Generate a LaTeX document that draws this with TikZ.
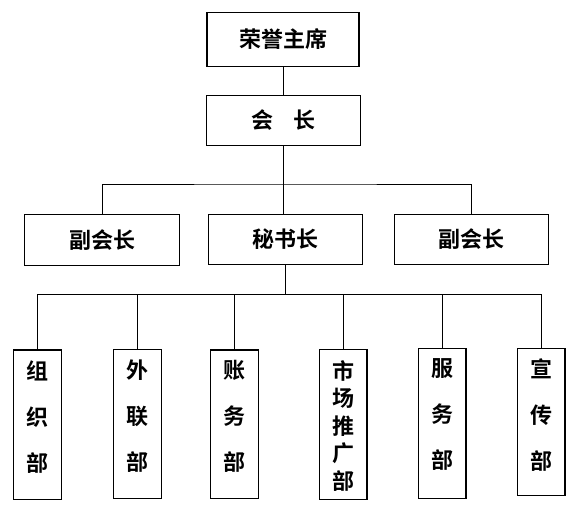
\documentclass[tikz,border=0pt]{standalone}
\usepackage{fontspec}
\newfontfamily\cjk{Noto Sans CJK SC}[BoldFont={Noto Sans CJK SC Bold}]
\usetikzlibrary{calc,positioning}

\tikzset{
  post/.style={draw, line width=1.2pt, font=\cjk\bfseries\fontsize{22}{26}\selectfont, inner sep=0pt},
  dept/.style={draw, line width=1.2pt, minimum width=47.5pt, inner sep=0pt},
  depttext/.style={align=center, inner sep=0pt, font=\cjk\bfseries\fontsize{22}{46}\selectfont},
  longtext/.style={depttext, font=\cjk\bfseries\fontsize{22}{27.5}\selectfont},
  link/.style={line width=0.9pt}
}

\begin{document}
\begin{tikzpicture}[x=1pt, y=-1pt]
  \useasboundingbox (0,0) rectangle (580,509);
  \node[post, minimum width=152pt, minimum height=54pt] (hon)  at (283,39.3)    {荣誉主席};
  \node[post, minimum width=153.6pt, minimum height=50pt] (pres) at (283.5,120.3) {会\hspace{20pt}长};
  \node[post, minimum width=155.4pt, minimum height=51pt] (vpl)  at (102,239.8)  {副会长};
  \node[post, minimum width=154.4pt, minimum height=50pt] (sec)  at (285.5,239.3) {秘书长};
  \node[post, minimum width=154.4pt, minimum height=50pt] (vpr)  at (471.5,239.3) {副会长};
  \node[dept, minimum height=149.3pt] (zz) at (37.5,424.7) {};
  \node[dept, minimum height=149.4pt] (wl) at (137.5,424) {};
  \node[dept, minimum height=148.7pt] (zw) at (234.5,424.3) {};
  \node[dept, minimum height=150pt]   (sc) at (343.2,424.3) {};
  \node[dept, minimum height=150.4pt] (fw) at (442.2,423.5) {};
  \node[dept, minimum height=147pt]   (xc) at (541.2,421.8) {};
  \node[depttext, below=11pt of zz.north] (zz-t) {组\\织\\部};
  \node[depttext, below=11pt of wl.north] (wl-t) {外\\联\\部};
  \node[depttext, below=11pt of zw.north] (zw-t) {账\\务\\部};
  \node[longtext, below=11.5pt of sc.north] (sc-t) {市\\场\\推\\广\\部};
  \node[depttext, below=10.5pt of fw.north] (fw-t) {服\\务\\部};
  \node[depttext, below=10.5pt of xc.north] (xc-t) {宣\\传\\部};
  \coordinate (bar1) at (284,184);
  \coordinate (bar2) at (286.5,294.3);
  \draw[link] (hon.south) -- (hon.south |- pres.north);
  \draw[link] (pres.south) -- (pres.south |- sec.north);
  \draw[link] (vpl.north) |- (bar1) -| (vpr.north);
  \draw[link] (sec.south) -- (sec.south |- bar2);
  \draw[link] (zz.north) |- (bar2) -| (xc.north);
  \foreach \d in {wl,zw,sc,fw}
    \draw[link] (\d.north) -- (\d.north |- bar2);
\end{tikzpicture}
\end{document}
